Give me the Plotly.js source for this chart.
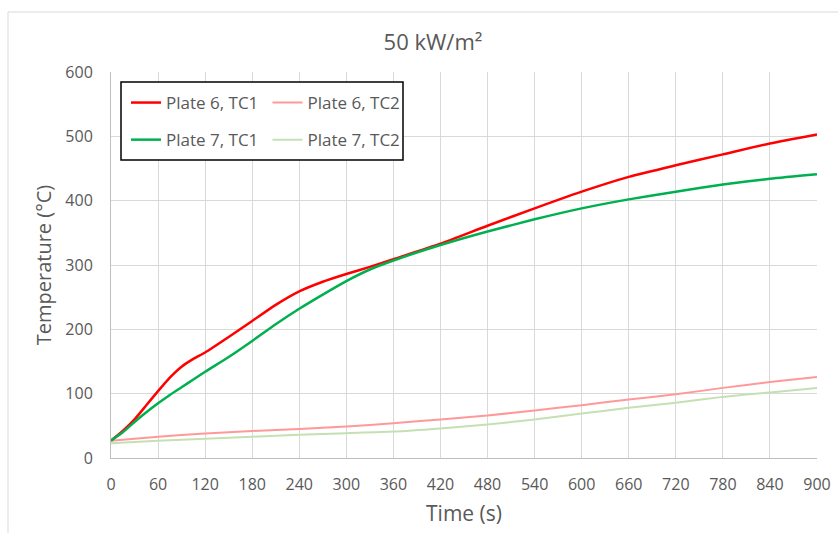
<!DOCTYPE html>
<html>
<head>
<meta charset="utf-8">
<script src="https://cdn.plot.ly/plotly-3.0.1.min.js"></script>
<style>html,body{margin:0;padding:0;background:#fff;}#chart{width:838px;height:533px;}</style>
</head>
<body>
<div id="chart"></div>
<script>
// Time (s)
const timeTC1 = [0, 15, 30, 45, 60, 75, 90, 105, 120, 150, 180, 210, 240, 270, 300, 330, 360, 420, 480, 540, 600, 660, 720, 780, 840, 900];
const timeTC2 = [0, 60, 120, 180, 240, 300, 360, 420, 480, 540, 600, 660, 720, 780, 840, 900];
// Temperature (°C)
const plate6TC1 = [27, 42, 60, 82, 104, 125, 142, 154, 164, 188, 213, 238, 259, 274, 286, 297, 309, 333, 361, 388, 414, 437, 455, 472, 489, 503];
const plate7TC1 = [27, 40, 56, 71, 85, 98, 110, 122, 134, 157, 182, 208, 232, 254, 275, 293, 307, 331, 352, 371, 388, 402, 414, 425, 434, 441];
const plate6TC2 = [27, 33, 38, 42, 45, 49, 54, 60, 66, 74, 82, 91, 99, 109, 118, 126];
const plate7TC2 = [23, 27, 30, 33, 36, 38.5, 41, 46, 52, 60, 69, 78, 86, 95, 102, 109];
const seriesNames = ['Plate 6, TC1', 'Plate 6, TC2', 'Plate 7, TC1', 'Plate 7, TC2'];
const xTicks = [0, 60, 120, 180, 240, 300, 360, 420, 480, 540, 600, 660, 720, 780, 840, 900];
const yTicks = [0, 100, 200, 300, 400, 500, 600];

const FONT = 'Open Sans, Noto Sans, sans-serif';
const W = 838, H = 533;
const M = {l: 111, r: 21, t: 72, b: 75};
const PW = W - M.l - M.r, PH = H - M.t - M.b;
const px = x => (x - M.l) / PW;
const py = y => (H - M.b - y) / PH;

const traces = [
  {x: timeTC1, y: plate6TC1, name: seriesNames[0], legend: 'legend', legendgroup: 'a',
   line: {color: '#ff0000', width: 2.5, shape: 'spline', smoothing: 0.6}},
  {x: timeTC2, y: plate6TC2, name: seriesNames[1], legend: 'legend2', legendgroup: 'b',
   line: {color: '#ff9999', width: 2, shape: 'spline', smoothing: 0.6}},
  {x: timeTC1, y: plate7TC1, name: seriesNames[2], legend: 'legend', legendgroup: 'c',
   line: {color: '#00b050', width: 2.5, shape: 'spline', smoothing: 0.6}},
  {x: timeTC2, y: plate7TC2, name: seriesNames[3], legend: 'legend2', legendgroup: 'd',
   line: {color: '#c5e0b3', width: 2, shape: 'spline', smoothing: 0.6}}
].map(t => Object.assign({type: 'scatter', mode: 'lines', hoverinfo: 'skip'}, t));

const legendCommon = {
  font: {family: FONT, size: 17, color: '#595959'},
  bgcolor: 'rgba(0,0,0,0)', borderwidth: 0,
  orientation: 'v', traceorder: 'grouped', tracegroupgap: 12,
  xanchor: 'left', yanchor: 'top', y: py(85)
};

const layout = {
  width: W, height: H,
  margin: M,
  paper_bgcolor: '#ffffff', plot_bgcolor: '#ffffff',
  font: {family: FONT, color: '#595959'},
  title: {text: '50 kW/m²', font: {family: FONT, size: 22, color: '#595959'},
          xref: 'paper', x: px(433), xanchor: 'center',
          yref: 'container', y: 1 - 42 / H, yanchor: 'middle'},
  showlegend: true,
  legend: Object.assign({}, legendCommon, {x: px(126)}),
  legend2: Object.assign({}, legendCommon, {x: px(267.5)}),
  xaxis: {
    range: [0, 900], tickmode: 'array', tickvals: xTicks, ticktext: xTicks.map(String),
    showgrid: true, gridcolor: '#d9d9d9', gridwidth: 1,
    showline: true, linecolor: '#bfbfbf', linewidth: 1, zeroline: false,
    ticks: '', ticklabelstandoff: 12,
    tickfont: {family: FONT, size: 16, color: '#595959'},
    title: {text: 'Time (s)', font: {family: FONT, size: 21, color: '#595959'}, standoff: 12},
    fixedrange: true
  },
  yaxis: {
    range: [0, 600], tickmode: 'array', tickvals: yTicks, ticktext: yTicks.map(String),
    showgrid: true, gridcolor: '#d9d9d9', gridwidth: 1,
    showline: true, linecolor: '#bfbfbf', linewidth: 1, zeroline: false,
    ticks: '', ticklabelstandoff: 14,
    tickfont: {family: FONT, size: 16, color: '#595959'},
    title: {text: 'Temperature (°C)', font: {family: FONT, size: 20, color: '#595959'}, standoff: 8},
    fixedrange: true
  },
  shapes: [
    // legend box
    {type: 'rect', xref: 'paper', yref: 'paper', x0: px(121), x1: px(403), y0: py(160), y1: py(82),
     line: {color: '#000000', width: 1.5}, fillcolor: '#ffffff', layer: 'above'},
    // chart area border (top and left)
    {type: 'line', xref: 'paper', yref: 'paper', x0: px(8), x1: px(840), y0: py(12), y1: py(12),
     line: {color: '#d9d9d9', width: 1}},
    {type: 'line', xref: 'paper', yref: 'paper', x0: px(8), x1: px(8), y0: py(12), y1: py(540),
     line: {color: '#d9d9d9', width: 1}}
  ]
};

Plotly.newPlot('chart', traces, layout, {staticPlot: true, displayModeBar: false});
</script>
</body>
</html>
